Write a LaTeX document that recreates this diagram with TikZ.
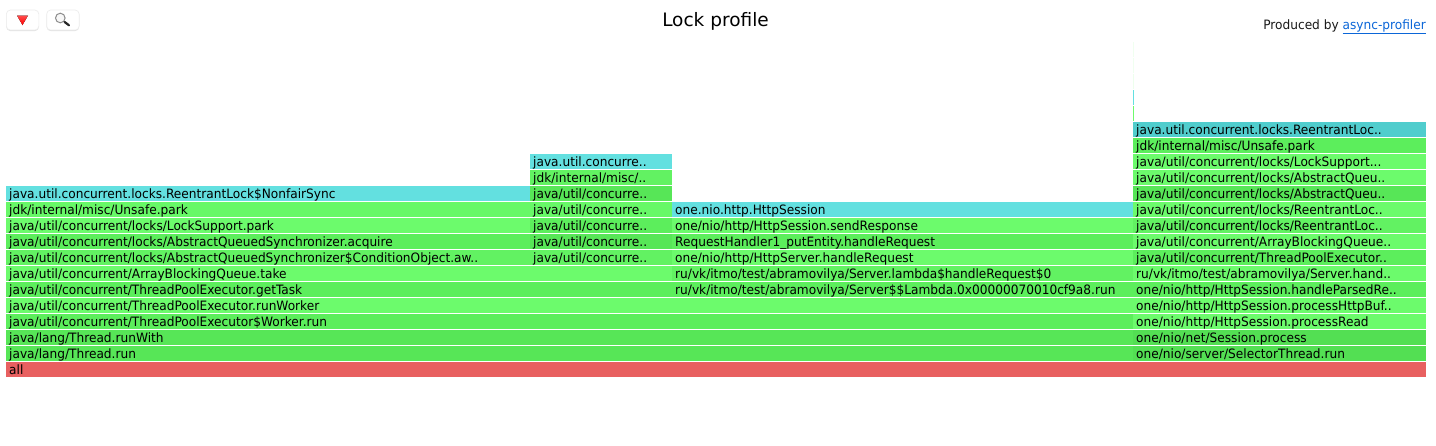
\documentclass[tikz,border=0pt]{standalone}
\usepackage{fontspec}
\setmainfont{DejaVu Sans}
\newfontfamily\framefont[FakeStretch=0.943]{DejaVu Sans}
\usetikzlibrary{shadows}
\definecolor{cA}{HTML}{6CFB6C}
\definecolor{cB}{HTML}{67F867}
\definecolor{cC}{HTML}{62F262}
\definecolor{cD}{HTML}{5CEE5C}
\definecolor{cE}{HTML}{57E657}
\definecolor{cF}{HTML}{53DF53}
\definecolor{cyanA}{HTML}{63E0E0}
\definecolor{cyanB}{HTML}{50CDCD}
\definecolor{redA}{HTML}{E86060}
\definecolor{linkc}{HTML}{0B66D8}
\tikzset{
  frame/.style={rectangle,anchor=north west,inner xsep=3pt,inner ysep=0pt,minimum height=15pt,
    text height=10.9pt,text depth=1.9pt,align=left,font=\framefont\fontsize{12.9}{14}\selectfont,text=black},
  btn/.style={rectangle,rounded corners=4pt,draw=black!7,fill=white,line width=0.7pt,
    drop shadow={shadow xshift=0pt,shadow yshift=-1pt,opacity=0.12,fill=black},minimum height=20pt,minimum width=32.5pt,anchor=north west},
  sliver/.style={rectangle,anchor=north west,inner sep=0pt,minimum width=1.3pt,minimum height=15pt}
}
\newcommand{\fr}[6]{%
  \pgfmathsetmacro{\fw}{#3-#2}%
  \pgfmathsetmacro{\ftw}{#3-#2-6}%
  \pgfmathsetmacro{\fy}{-(362.2-16*#4)}%
  \node[frame,fill=#5,minimum width=\fw pt,text width=\ftw pt] (#1) at (#2,\fy) {#6};%
}
\begin{document}
\begin{tikzpicture}[x=1pt,y=1pt]
\useasboundingbox (0,0) rectangle (1436,-445);
\fill[white] (0,0) rectangle (1436,-445);
% buttons
\node[btn] (b1) at (6,-9.7) {};
\node[btn] (b2) at (46.3,-9.7) {};
\fill[top color=red!70!white,bottom color=red] (17,-15.5) -- (28,-15.5) -- (22.5,-25) -- cycle;
\draw[black!45,fill=black!3,line width=1pt] (60.3,-18) circle (4.8);
\draw[black!85,line width=2.2pt,line cap=round] (64.6,-22) -- (69,-25.3);
% header
\node[font=\fontsize{18.5}{22}\selectfont,text=black] (title) at (715.5,-21.5) {Lock profile};
\node[anchor=base east,inner sep=0pt,font=\framefont\fontsize{12.9}{15}\selectfont,text=black!90] (prod) at (1426,-29.3) {Produced by \textcolor{linkc}{\underline{async-profiler}}};
% slivers
\node[sliver,fill=cA!10] (s1) at (1132.4,-42) {};
\node[sliver,fill=cA!10] (s2) at (1132.4,-58) {};
\node[sliver,fill=cA!12] (s3) at (1132.4,-74) {};
\node[sliver,fill=cyanA] (s4) at (1132.4,-90) {};
\node[sliver,fill=cA] (s5) at (1132.4,-106) {};
% bottom
\fr{all}{6}{1426}{0}{redA}{all}
\fr{l1}{6}{1133}{1}{cE}{java/lang/Thread.run}
\fr{l2}{6}{1133}{2}{cE}{java/lang/Thread.runWith}
\fr{l3}{6}{1133}{3}{cD}{java/util/concurrent/ThreadPoolExecutor\$Worker.run}
\fr{l4}{6}{1133}{4}{cA}{java/util/concurrent/ThreadPoolExecutor.runWorker}
\fr{l5}{6}{672}{5}{cD}{java/util/concurrent/ThreadPoolExecutor.getTask}
\fr{l6}{6}{672}{6}{cA}{java/util/concurrent/ArrayBlockingQueue.take}
\fr{l7}{6}{530}{7}{cC}{java/util/concurrent/locks/AbstractQueuedSynchronizer\$ConditionObject.aw..}
\fr{l8}{6}{530}{8}{cD}{java/util/concurrent/locks/AbstractQueuedSynchronizer.acquire}
\fr{l9}{6}{530}{9}{cA}{java/util/concurrent/locks/LockSupport.park}
\fr{l10}{6}{530}{10}{cB}{jdk/internal/misc/Unsafe.park}
\fr{l11}{6}{530}{11}{cyanA}{java.util.concurrent.locks.ReentrantLock\$NonfairSync}
% second tower
\fr{m7}{530}{672}{7}{cC}{java/util/concurre..}
\fr{m8}{530}{672}{8}{cE}{java/util/concurre..}
\fr{m9}{530}{672}{9}{cD}{java/util/concurre..}
\fr{m10}{530}{672}{10}{cB}{java/util/concurre..}
\fr{m11}{530}{672}{11}{cE}{java/util/concurre..}
\fr{m12}{530}{672}{12}{cC}{jdk/internal/misc/..}
\fr{m13}{530}{672}{13}{cyanA}{java.util.concurre..}
% third tower
\fr{n5}{672}{1133}{5}{cD}{ru/vk/itmo/test/abramovilya/Server\$\$Lambda.0x00000070010cf9a8.run}
\fr{n6}{672}{1133}{6}{cC}{ru/vk/itmo/test/abramovilya/Server.lambda\$handleRequest\$0}
\fr{n7}{672}{1133}{7}{cA}{one/nio/http/HttpServer.handleRequest}
\fr{n8}{672}{1133}{8}{cD}{RequestHandler1\_putEntity.handleRequest}
\fr{n9}{672}{1133}{9}{cA}{one/nio/http/HttpSession.sendResponse}
\fr{n10}{672}{1133}{10}{cyanA}{one.nio.http.HttpSession}
% right tower
\fr{r1}{1133}{1426}{1}{cF}{one/nio/server/SelectorThread.run}
\fr{r2}{1133}{1426}{2}{cF}{one/nio/net/Session.process}
\fr{r3}{1133}{1426}{3}{cA}{one/nio/http/HttpSession.processRead}
\fr{r4}{1133}{1426}{4}{cA}{one/nio/http/HttpSession.processHttpBuf..}
\fr{r5}{1133}{1426}{5}{cD}{one/nio/http/HttpSession.handleParsedRe..}
\fr{r6}{1133}{1426}{6}{cA}{ru/vk/itmo/test/abramovilya/Server.hand..}
\fr{r7}{1133}{1426}{7}{cD}{java/util/concurrent/ThreadPoolExecutor..}
\fr{r8}{1133}{1426}{8}{cA}{java/util/concurrent/ArrayBlockingQueue..}
\fr{r9}{1133}{1426}{9}{cC}{java/util/concurrent/locks/ReentrantLoc..}
\fr{r10}{1133}{1426}{10}{cA}{java/util/concurrent/locks/ReentrantLoc..}
\fr{r11}{1133}{1426}{11}{cE}{java/util/concurrent/locks/AbstractQueu..}
\fr{r12}{1133}{1426}{12}{cA}{java/util/concurrent/locks/AbstractQueu..}
\fr{r13}{1133}{1426}{13}{cA}{java/util/concurrent/locks/LockSupport...}
\fr{r14}{1133}{1426}{14}{cD}{jdk/internal/misc/Unsafe.park}
\fr{r15}{1133}{1426}{15}{cyanB}{java.util.concurrent.locks.ReentrantLoc..}
\end{tikzpicture}
\end{document}
